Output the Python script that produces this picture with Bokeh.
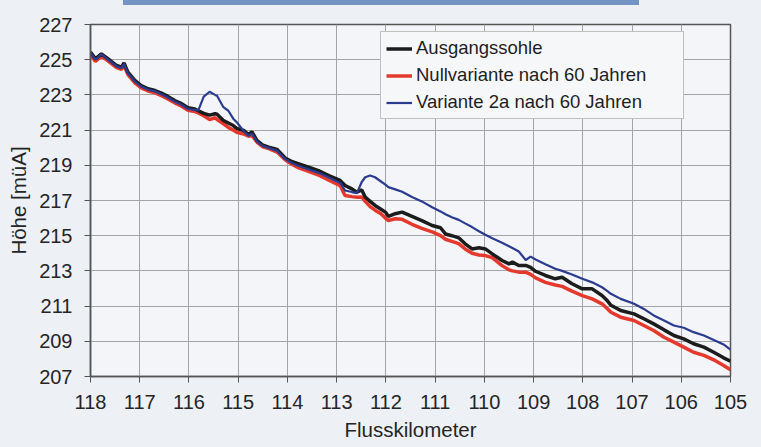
from bokeh.plotting import figure
from bokeh.models import Range1d, FixedTicker, Legend, LegendItem, Div
from bokeh.layouts import column
from bokeh.embed import file_html
from bokeh.resources import INLINE

# Flusskilometer (stations)
km = [118.0, 117.9, 117.78, 117.64, 117.47, 117.37, 117.32, 117.24, 117.1, 116.97,
      116.83, 116.69, 116.56, 116.42, 116.29, 116.15, 116.02, 115.88, 115.81, 115.7,
      115.58, 115.47, 115.43, 115.3, 115.2, 115.1, 115.03, 114.89, 114.79, 114.72,
      114.62, 114.5, 114.38, 114.21, 114.04, 113.9, 113.77, 113.57, 113.37, 113.16,
      112.93, 112.83, 112.69, 112.59, 112.49, 112.42, 112.32, 112.22, 112.1, 112.01,
      111.95, 111.81, 111.67, 111.47, 111.27, 111.06, 110.89, 110.79, 110.66, 110.52,
      110.39, 110.25, 110.11, 109.98, 109.84, 109.64, 109.5, 109.43, 109.3, 109.16,
      109.06, 108.96, 108.76, 108.56, 108.42, 108.22, 108.01, 107.81, 107.61, 107.5,
      107.43, 107.23, 106.96, 106.76, 106.56, 106.35, 106.15, 105.95, 105.75, 105.54,
      105.34, 105.14, 105.0]

ausgangssohle = [225.43, 225.05, 225.33, 225.05, 224.67, 224.57, 224.82, 224.29, 223.82, 223.53,
                 223.35, 223.25, 223.1, 222.9, 222.68, 222.5, 222.27, 222.2, 222.1, 221.95,
                 221.85, 221.93, 221.9, 221.55, 221.4, 221.26, 221.1, 220.98, 220.75, 220.9,
                 220.41, 220.15, 220.03, 219.9, 219.4, 219.2, 219.08, 218.89, 218.7, 218.42,
                 218.14, 217.85, 217.66, 217.47, 217.6, 217.2, 216.95, 216.72, 216.5, 216.34,
                 216.1, 216.25, 216.34, 216.1, 215.86, 215.58, 215.45, 215.1, 215.0, 214.88,
                 214.54, 214.25, 214.31, 214.25, 213.97, 213.59, 213.4, 213.5, 213.31, 213.31,
                 213.2, 212.98, 212.74, 212.55, 212.64, 212.27, 211.98, 211.98, 211.6, 211.3,
                 211.05, 210.75, 210.56, 210.28, 209.99, 209.65, 209.33, 209.14, 208.86, 208.67,
                 208.38, 208.06, 207.87]

nullvariante = [225.3, 224.9, 225.2, 224.92, 224.55, 224.45, 224.68, 224.15, 223.68, 223.4,
                223.22, 223.12, 222.96, 222.76, 222.55, 222.36, 222.13, 222.05, 221.98, 221.82,
                221.6, 221.7, 221.6, 221.36, 221.15, 221.0, 220.88, 220.78, 220.65, 220.7,
                220.32, 220.05, 219.95, 219.75, 219.3, 219.05, 218.85, 218.65, 218.45, 218.15,
                217.85, 217.28, 217.22, 217.19, 217.2, 216.95, 216.65, 216.45, 216.25, 216.0,
                215.86, 215.96, 215.93, 215.65, 215.42, 215.22, 215.0, 214.8, 214.68, 214.55,
                214.25, 214.0, 213.9, 213.87, 213.75, 213.3, 213.06, 213.0, 212.93, 212.93,
                212.8, 212.6, 212.35, 212.2, 212.12, 211.85, 211.6, 211.41, 211.13, 210.85,
                210.65, 210.37, 210.18, 209.9, 209.61, 209.23, 208.95, 208.67, 208.38, 208.2,
                207.95, 207.63, 207.38]

variante_2a = [225.4, 225.0, 225.3, 225.0, 224.62, 224.52, 224.76, 224.24, 223.76, 223.48,
               223.3, 223.2, 223.04, 222.84, 222.62, 222.44, 222.2, 222.15, 222.12, 222.9,
               223.18, 223.0, 222.95, 222.3, 222.1, 221.65, 221.45, 220.95, 220.68, 220.8,
               220.36, 220.1, 219.99, 219.82, 219.35, 219.12, 218.96, 218.77, 218.57, 218.3,
               218.0, 217.57, 217.48, 217.42, 218.05, 218.32, 218.42, 218.32, 218.08, 217.9,
               217.76, 217.63, 217.5, 217.2, 216.95, 216.62, 216.38, 216.22, 216.05, 215.9,
               215.7, 215.49, 215.25, 215.05, 214.85, 214.6, 214.4, 214.3, 214.1, 213.62,
               213.81, 213.65, 213.38, 213.12, 213.0, 212.8, 212.55, 212.35, 212.07, 211.85,
               211.7, 211.41, 211.13, 210.84, 210.47, 210.18, 209.9, 209.77, 209.52, 209.33,
               209.08, 208.82, 208.52]

series_names = ["Ausgangssohle", "Nullvariante nach 60 Jahren", "Variante 2a nach 60 Jahren"]
x_ticks = list(range(105, 119))
y_ticks = list(range(207, 228, 2))

FONT = "Liberation Sans"
BG = "#edf1f5"

p = figure(width=761, height=442, x_range=Range1d(118, 105), y_range=Range1d(207, 227),
           output_backend="svg", toolbar_location=None,
           min_border_left=90, min_border_right=31, min_border_top=19, min_border_bottom=71,
           border_fill_color=BG, background_fill_color="#f3f5f8",
           x_axis_label="Flusskilometer", y_axis_label="Höhe [müA]")

p.outline_line_color = "#555555"
p.outline_line_width = 1.5

p.xaxis.ticker = FixedTicker(ticks=x_ticks)
p.yaxis.ticker = FixedTicker(ticks=y_ticks)
p.xgrid.ticker = FixedTicker(ticks=x_ticks)
p.ygrid.ticker = FixedTicker(ticks=y_ticks)
for g in (p.xgrid, p.ygrid):
    g.grid_line_color = "#a2a4a8"
    g.grid_line_width = 1

for ax in (p.xaxis, p.yaxis):
    ax.axis_line_color = "#555555"
    ax.axis_line_width = 1.5
    ax.major_tick_line_color = "#555555"
    ax.major_tick_in = 0
    ax.major_tick_out = 6
    ax.minor_tick_line_color = None
    ax.major_label_text_font = FONT
    ax.major_label_text_font_size = "20px"
    ax.major_label_text_color = "#252525"
    ax.major_label_standoff = 12
    ax.axis_label_text_font = FONT
    ax.axis_label_text_font_size = "20.5px"
    ax.axis_label_text_font_style = "normal"
    ax.axis_label_text_color = "#252525"
p.xaxis.axis_label_standoff = 6
p.yaxis.axis_label_standoff = 6

r_null = p.line(km, nullvariante, line_color="#e6392e", line_width=3.5)
r_aus = p.line(km, ausgangssohle, line_color="#1c1c1c", line_width=3.5)
r_var = p.line(km, variante_2a, line_color="#2b3b8f", line_width=2.2)

legend = Legend(items=[LegendItem(label=series_names[0], renderers=[r_aus]),
                       LegendItem(label=series_names[1], renderers=[r_null]),
                       LegendItem(label=series_names[2], renderers=[r_var])],
                location=(290, 257))
legend.label_text_font = FONT
legend.label_text_font_size = "18.5px"
legend.label_text_color = "#1e1e1e"
legend.label_standoff = 4
legend.label_width = 262
legend.label_height = 21
legend.glyph_width = 26
legend.glyph_height = 21
legend.spacing = 5
legend.padding = 5
legend.margin = 0
legend.border_line_color = "#8a8a8a"
legend.border_line_width = 1
legend.background_fill_color = "#f6f7f9"
legend.background_fill_alpha = 1
p.add_layout(legend)

top_bar = Div(text="", width=516, height=5, margin=(0, 0, 0, 123),
              styles={"background-color": "#7494c4"})
p.margin = (0, 0, 0, 0)
layout = column(top_bar, p, spacing=0, margin=(0, 0, 0, 0),
                styles={"background-color": BG})

open("out.html", "w").write(file_html(layout, INLINE))
